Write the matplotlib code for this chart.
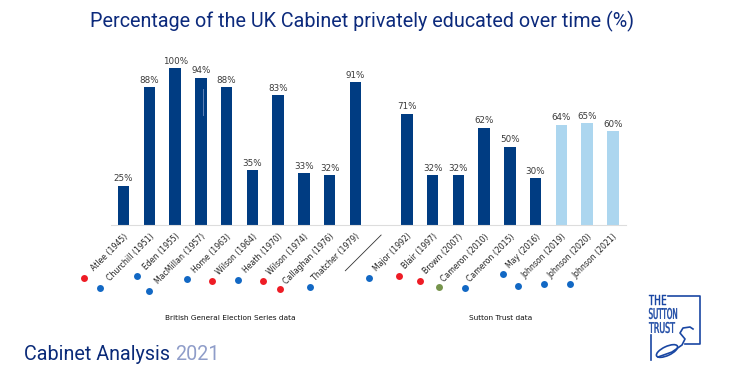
import matplotlib.pyplot as plt
from matplotlib.patches import Ellipse, PathPatch
from matplotlib.textpath import TextPath
from matplotlib.font_manager import FontProperties
from matplotlib.transforms import Affine2D
import numpy as np

# data
leaders = ["Atlee (1945)", "Churchill (1951)", "Eden (1955)", "MacMillan (1957)",
           "Home (1963)", "Wilson (1964)", "Heath (1970)", "Wilson (1974)",
           "Callaghan (1976)", "Thatcher (1979)",
           "Major (1992)", "Blair (1997)", "Brown (2007)", "Cameron (2010)",
           "Cameron (2015)", "May (2016)", "Johnson (2019)", "Johnson (2020)",
           "Johnson (2021)"]
pct = [25, 88, 100, 94, 88, 35, 83, 33, 32, 91,
       71, 32, 32, 62, 50, 30, 64, 65, 60]
party = ["lab", "con", "con", "con", "con", "lab", "con", "lab", "lab", "con",
         "con", "lab", "lab", "coal", "con", "con", "con", "con", "con"]
source_labels = ["British General Election Series data", "Sutton Trust data"]

dark = "#003c82"
light = "#acd6ef"
party_col = {"lab": "#ee1c25", "con": "#1268c4", "coal": "#76944c"}

# slot 10 is left empty as the divider between the two data sources
slots = np.array(list(range(10)) + list(range(11, 20)))
bar_cols = [dark] * 16 + [light] * 3

fig = plt.figure(figsize=(7.5, 3.78), dpi=100)
ax = fig.add_axes([111 / 750, 153 / 378, 515 / 750, 156.7 / 378])

ax.bar(slots, pct, width=0.45, color=bar_cols, zorder=2)
for x, v in zip(slots, pct):
    ax.text(x, v + 1.5, f"{v}%", ha="center", va="bottom", fontsize=6.3, color="#3a3a3a")
# faint streak visible inside the MacMillan bar
ax.plot([3.08, 3.08], [70, 87], color="#5f83b8", lw=0.7, zorder=3)

ax.set_xlim(-0.49, 19.51)
ax.set_ylim(0, 100)
ax.set_yticks([])
ax.set_xticks(slots)
ax.set_xticklabels(leaders, rotation=45, ha="right", va="top",
                   rotation_mode="anchor", fontsize=5.6, color="#222222")
ax.tick_params(axis="x", length=0, pad=5)
for s in ["top", "right", "left"]:
    ax.spines[s].set_visible(False)
ax.spines["bottom"].set_color("#dddddd")
ax.spines["bottom"].set_linewidth(0.8)

# divider drawn where the empty slot's label would be
ax.plot([8.61, 10.0], [-29.2, -6.4], color="#333333", lw=0.6, clip_on=False)

# party dots under the labels (offsets in slot units / data units)
dot_dx = [-1.54, -1.9, -1.49, -2.02, -1.52, -1.57, -1.55, -1.59, -1.94, -1.77,
          -1.46, -1.30, -1.48, -1.77, -1.74, -1.26, -1.69, -1.67, -1.67]
dot_y = [-34.0, -40.2, -32.7, -42.0, -34.4, -35.7, -34.8, -35.7, -41.1, -39.6,
         -33.6, -32.5, -35.7, -39.3, -40.2, -31.5, -39.0, -37.9, -37.9]
for x, dx, y, p in zip(slots, dot_dx, dot_y, party):
    ax.plot(x + dx, y, "o", ms=5, color=party_col[p], mec="none", clip_on=False)

# text around the chart
fig.text(362.5 / 750, 1 - 21 / 378, "Percentage of the UK Cabinet privately educated over time (%)",
         ha="center", va="center", fontsize=14.2, color="#0c2a7c", family="Roboto")
fig.text(230 / 750, 1 - 318 / 378, source_labels[0], ha="center", va="center",
         fontsize=5.3, color="#111111")
fig.text(501 / 750, 1 - 318 / 378, source_labels[1], ha="center", va="center",
         fontsize=5.3, color="#111111")
t = fig.text(24 / 750, 1 - 355 / 378, "Cabinet Analysis ", ha="left", va="center",
             fontsize=14.2, color="#0a2a78", family="Roboto")
fig.canvas.draw()
bb = t.get_window_extent()
fig.text(bb.x1 / 750, 1 - 355 / 378, "2021", ha="left", va="center",
         fontsize=14.2, color="#8f9dc9", family="Roboto")

# rough Sutton Trust logo, drawn in pixel coordinates (y down)
logo_blue = "#1a47a3"
lax = fig.add_axes([0, 0, 1, 1], facecolor="none")
lax.set_xlim(0, 750)
lax.set_ylim(378, 0)
lax.axis("off")
fp = FontProperties(family="DejaVu Sans", weight="normal")
for word, x0, y0, w, h in [("THE", 649, 305, 17, 10), ("SUTTON", 649, 319, 28, 11),
                           ("TRUST", 649, 333, 26, 11)]:
    tp = TextPath((0, 0), word, size=10, prop=fp)
    ext = tp.get_extents()
    tr = (Affine2D().translate(-ext.x0, -ext.y0)
          .scale(w / ext.width, -h / ext.height).translate(x0, y0))
    lax.add_patch(PathPatch(tr.transform_path(tp), fc=logo_blue, ec=logo_blue, lw=0.3))
lax.plot([668, 700, 700, 685], [296, 296, 344, 344], color=logo_blue, lw=1.2)
lax.plot([651, 651], [335, 360], color=logo_blue, lw=1.2)
lax.add_patch(Ellipse((667, 351), 23, 9, angle=-25, fill=False, ec=logo_blue, lw=1.2))
lax.plot([658, 672, 682, 685, 680, 683, 690, 693], [357, 352, 345, 339, 333, 328, 327, 329],
         color=logo_blue, lw=1.2)

fig.savefig("out.png", dpi=100, facecolor="white")
